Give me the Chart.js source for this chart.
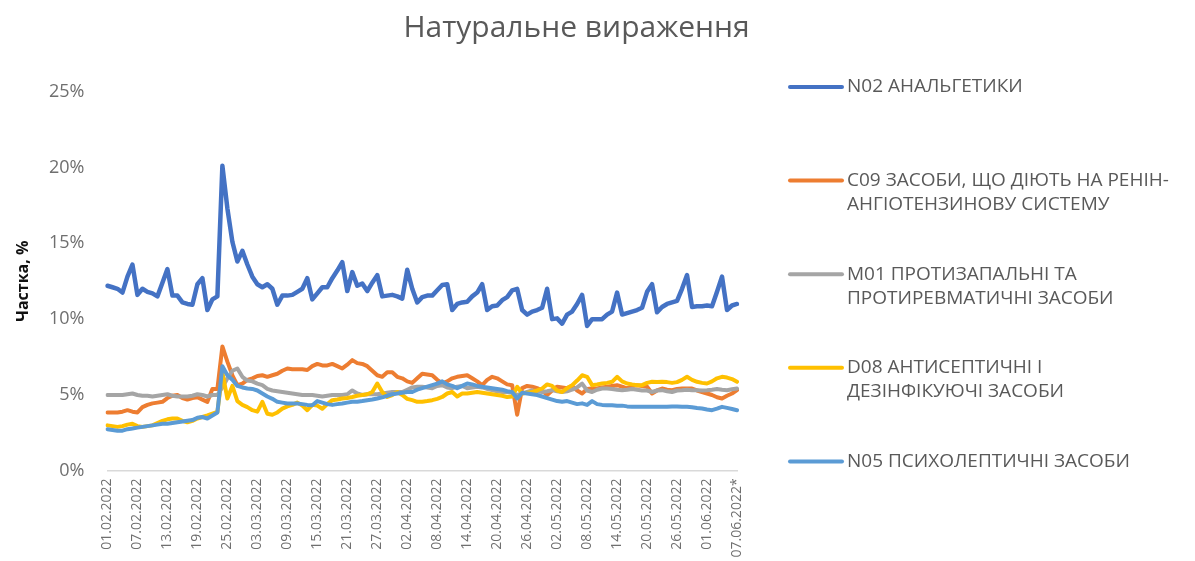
<!DOCTYPE html>
<html>
<head>
<meta charset="utf-8">
<script src="https://cdn.jsdelivr.net/npm/chart.js"></script>
<style>
  html, body { margin: 0; padding: 0; background: #fff; }
  #wrap { width: 1195px; height: 561px; }
</style>
</head>
<body>
<div id="wrap"><canvas id="share-chart"></canvas></div>
<script>
// daily categories 01.02.2022 .. 07.06.2022 (last day marked with *)
var days = [];
for (var d = new Date(2022, 1, 1); d <= new Date(2022, 5, 7); d.setDate(d.getDate() + 1)) {
  days.push(String(d.getDate()).padStart(2, '0') + '.' + String(d.getMonth() + 1).padStart(2, '0') + '.' + d.getFullYear());
}
days[days.length - 1] += '*';

// legend text, split into lines like the original
var legend_lines = [
  ['N02 АНАЛЬГЕТИКИ'],
  ['C09 ЗАСОБИ, ЩО ДІЮТЬ НА РЕНІН-', 'АНГІОТЕНЗИНОВУ СИСТЕМУ'],
  ['M01 ПРОТИЗАПАЛЬНІ ТА', 'ПРОТИРЕВМАТИЧНІ ЗАСОБИ'],
  ['D08 АНТИСЕПТИЧНІ І', 'ДЕЗІНФІКУЮЧІ ЗАСОБИ'],
  ['N05 ПСИХОЛЕПТИЧНІ ЗАСОБИ']
];
var colors = ["#4472C4", "#ED7D31", "#A5A5A5", "#FFC000", "#5B9BD5"];

// share, %
var n02 = [12.2, 12.1, 12.0, 11.75, 12.8, 13.6, 11.6, 12.0, 11.8, 11.7,
  11.5, 12.4, 13.3, 11.55, 11.55, 11.1, 11.0, 10.95, 12.3, 12.7,
  10.6, 11.3, 11.5, 20.1, 17.3, 15.1, 13.8, 14.5, 13.6, 12.8,
  12.3, 12.1, 12.3, 12.0, 10.95, 11.55, 11.55, 11.6, 11.8, 12.0,
  12.7, 11.3, 11.7, 12.1, 12.1, 12.7, 13.2, 13.75, 11.85, 13.1,
  12.2, 12.35, 11.85, 12.4, 12.9, 11.5, 11.55, 11.6, 11.5, 11.35,
  13.25, 12.0, 11.1, 11.45, 11.55, 11.55, 11.9, 12.25, 12.3, 10.6,
  11.0, 11.1, 11.15, 11.5, 11.75, 12.3, 10.6, 10.85, 10.9, 11.25,
  11.45, 11.9, 12.0, 10.6, 10.3, 10.5, 10.6, 10.75, 12.0, 10.0,
  10.05, 9.7, 10.3, 10.5, 11.0, 11.6, 9.55, 10.0, 10.0, 10.0,
  10.3, 10.5, 11.75, 10.3, 10.4, 10.5, 10.6, 10.75, 11.8, 12.3,
  10.45, 10.8, 11.0, 11.1, 11.2, 12.0, 12.9, 10.8, 10.85, 10.85,
  10.9, 10.85, 11.8, 12.8, 10.6, 10.9, 11.0];
var c09 = [3.85, 3.85, 3.85, 3.9, 4.0, 3.9, 3.85, 4.2, 4.35, 4.45,
  4.5, 4.55, 4.8, 4.95, 5.0, 4.8, 4.7, 4.8, 4.85, 4.7,
  4.55, 5.4, 5.4, 8.2, 7.2, 6.3, 5.65, 5.75, 6.0, 6.1,
  6.25, 6.3, 6.2, 6.3, 6.4, 6.6, 6.75, 6.7, 6.7, 6.7,
  6.65, 6.9, 7.05, 6.95, 6.95, 7.05, 6.9, 6.75, 7.0, 7.3,
  7.1, 7.05, 6.9, 6.6, 6.3, 6.2, 6.5, 6.5, 6.2, 6.1,
  5.9, 5.8, 6.1, 6.4, 6.35, 6.3, 6.0, 5.76, 5.9, 6.1,
  6.2, 6.25, 6.3, 6.1, 5.9, 5.65, 6.0, 6.2, 6.1, 5.9,
  5.7, 5.65, 3.7, 5.45, 5.6, 5.55, 5.45, 5.3, 5.0, 5.3,
  5.55, 5.5, 5.45, 5.6, 5.3, 5.1, 5.4, 5.43, 5.43, 5.5,
  5.54, 5.6, 5.65, 5.55, 5.43, 5.6, 5.65, 5.6, 5.55, 5.1,
  5.3, 5.43, 5.35, 5.32, 5.4, 5.43, 5.43, 5.43, 5.3, 5.2,
  5.1, 5.0, 4.85, 4.77, 4.95, 5.1, 5.32];
var m01 = [5.0, 5.0, 5.0, 5.0, 5.05, 5.1, 5.0, 4.95, 4.95, 4.9,
  4.95, 5.0, 5.05, 4.95, 4.9, 4.9, 4.9, 4.95, 5.05, 5.0,
  4.9, 5.0, 5.0, 5.5, 6.1, 6.6, 6.75, 6.2, 5.95, 5.9,
  5.75, 5.65, 5.4, 5.3, 5.25, 5.2, 5.15, 5.1, 5.05, 5.0,
  5.0, 5.0, 4.95, 4.9, 4.95, 5.0, 5.0, 5.0, 5.05, 5.3,
  5.1, 5.0, 5.05, 5.05, 5.05, 5.1, 5.15, 5.2, 5.2, 5.2,
  5.35, 5.5, 5.55, 5.54, 5.5, 5.45, 5.6, 5.65, 5.5, 5.45,
  5.55, 5.6, 5.45, 5.5, 5.55, 5.5, 5.4, 5.32, 5.25, 5.2,
  5.2, 5.15, 5.0, 5.1, 5.2, 5.3, 5.25, 5.2, 5.25, 5.32,
  5.25, 5.2, 5.25, 5.35, 5.5, 5.75, 5.3, 5.2, 5.35, 5.43,
  5.43, 5.4, 5.35, 5.32, 5.35, 5.4, 5.35, 5.3, 5.3, 5.2,
  5.3, 5.32, 5.25, 5.2, 5.3, 5.32, 5.35, 5.32, 5.32, 5.3,
  5.32, 5.35, 5.4, 5.35, 5.32, 5.38, 5.43];
var d08 = [3.0, 2.95, 2.9, 2.95, 3.05, 3.1, 2.95, 2.9, 2.95, 3.0,
  3.15, 3.3, 3.4, 3.45, 3.45, 3.3, 3.2, 3.3, 3.45, 3.55,
  3.65, 3.77, 3.88, 6.5, 4.77, 5.6, 4.6, 4.35, 4.2, 4.0,
  3.9, 4.55, 3.77, 3.7, 3.85, 4.1, 4.25, 4.35, 4.5, 4.3,
  4.0, 4.35, 4.3, 4.1, 4.4, 4.66, 4.7, 4.77, 4.8, 4.87,
  4.95, 5.0, 5.05, 5.2, 5.76, 5.2, 4.87, 5.0, 5.2, 5.0,
  4.75, 4.66, 4.55, 4.55, 4.6, 4.66, 4.75, 4.87, 5.1, 5.2,
  4.9, 5.1, 5.1, 5.15, 5.2, 5.15, 5.1, 5.05, 5.0, 4.95,
  4.87, 4.9, 5.54, 5.1, 5.15, 5.2, 5.3, 5.43, 5.7, 5.6,
  5.3, 5.2, 5.45, 5.65, 5.95, 6.3, 6.2, 5.65, 5.7, 5.76,
  5.8, 5.87, 6.2, 5.9, 5.76, 5.7, 5.65, 5.65, 5.8, 5.87,
  5.85, 5.87, 5.85, 5.8, 5.85, 6.0, 6.2, 6.0, 5.87, 5.8,
  5.76, 5.9, 6.1, 6.2, 6.15, 6.05, 5.87];
var n05 = [2.75, 2.7, 2.65, 2.65, 2.75, 2.8, 2.85, 2.9, 2.95, 3.0,
  3.05, 3.1, 3.1, 3.15, 3.2, 3.25, 3.3, 3.35, 3.5, 3.55,
  3.45, 3.65, 3.85, 6.9, 6.3, 6.0, 5.6, 5.5, 5.43, 5.4,
  5.3, 5.1, 4.9, 4.75, 4.55, 4.5, 4.44, 4.44, 4.44, 4.4,
  4.35, 4.33, 4.6, 4.5, 4.4, 4.35, 4.4, 4.44, 4.5, 4.55,
  4.55, 4.6, 4.66, 4.7, 4.77, 4.85, 4.95, 5.05, 5.1, 5.15,
  5.2, 5.2, 5.35, 5.45, 5.55, 5.65, 5.75, 5.9, 5.7, 5.6,
  5.45, 5.6, 5.76, 5.7, 5.6, 5.54, 5.5, 5.45, 5.4, 5.35,
  5.25, 5.2, 4.77, 5.15, 5.1, 5.05, 5.0, 4.9, 4.8, 4.7,
  4.6, 4.55, 4.6, 4.5, 4.4, 4.45, 4.35, 4.6, 4.4, 4.35,
  4.33, 4.33, 4.3, 4.3, 4.25, 4.22, 4.22, 4.22, 4.22, 4.22,
  4.22, 4.22, 4.22, 4.25, 4.25, 4.22, 4.22, 4.2, 4.15, 4.11,
  4.05, 4.0, 4.1, 4.22, 4.15, 4.08, 4.0];

var series = [n02, c09, m01, d08, n05];

// the built-in legend is clipped to half the canvas width, so the wide
// two-line legend is drawn here, in the space kept free by the 'side' axis
var side_legend = {
  id: 'sideLegend',
  afterDraw: function (chart, args, opts) {
    var ctx = chart.ctx;
    var x = chart.chartArea.right + opts.offset;
    ctx.save();
    ctx.font = opts.font;
    ctx.textAlign = 'left';
    ctx.textBaseline = 'middle';
    chart.data.datasets.forEach(function (ds, i) {
      var y = opts.top + i * opts.step;
      ctx.strokeStyle = ds.borderColor;
      ctx.lineWidth = opts.lineWidth;
      ctx.lineCap = 'round';
      ctx.beginPath();
      ctx.moveTo(x, y);
      ctx.lineTo(x + opts.boxWidth, y);
      ctx.stroke();
      ctx.fillStyle = opts.color;
      legend_lines[i].forEach(function (line, k) {
        ctx.fillText(line, x + opts.boxWidth + opts.gap, y + k * opts.lineHeight);
      });
    });
    ctx.restore();
  }
};

Chart.defaults.font.family = "'Open Sans', sans-serif";

new Chart("share-chart", {
  type: 'line',
  data: {
    labels: days,
    // order: later series drawn on top, as in the original
    datasets: series.map(function (values, i) {
      return {
        label: legend_lines[i].join(' '),
        data: values,
        borderColor: colors[i],
        backgroundColor: colors[i],
        borderWidth: i === 0 ? 4.5 : 4,
        borderJoinStyle: 'round',
        borderCapStyle: 'round',
        pointRadius: 0,
        tension: 0,
        order: series.length - 1 - i
      };
    })
  },
  plugins: [side_legend],
  options: {
    responsive: true,
    maintainAspectRatio: false,
    animation: false,
    layout: { padding: { right: 42 } },
    plugins: {
      title: {
        display: true,
        text: 'Натуральне вираження',
        color: '#595959',
        font: { size: 30, weight: 'normal' },
        padding: { top: 10, bottom: 45.5 }
      },
      legend: { display: false },
      tooltip: { enabled: false },
      sideLegend: {
        offset: 53,
        top: 87,
        step: 93.6,
        lineHeight: 24,
        boxWidth: 52,
        gap: 5,
        lineWidth: 4,
        font: "19px 'Open Sans'",
        color: '#595959'
      }
    },
    scales: {
      x: {
        grid: { display: false, drawTicks: true, tickLength: 4 },
        border: { display: true, color: '#d9d9d9', width: 1.5 },
        ticks: {
          autoSkip: false,
          minRotation: 90,
          maxRotation: 90,
          padding: 3.5,
          color: '#6f6f6f',
          font: { size: 14 },
          callback: function (value, index) {
            return index % 6 === 0 ? this.getLabelForValue(value) : '';
          }
        }
      },
      y: {
        min: 0,
        max: 25,
        grid: { display: false, drawTicks: true, tickLength: 23 },
        border: { display: false },
        ticks: {
          stepSize: 5,
          padding: 0,
          color: '#6f6f6f',
          font: { size: 18 },
          callback: function (value) { return value + '%'; }
        },
        title: {
          display: true,
          text: 'Частка, %',
          color: '#111111',
          font: { size: 16, weight: 'bold' },
          padding: { top: 13.4, bottom: 16.4 }
        }
      },
      // empty axis that only reserves room for the legend
      side: {
        position: 'right',
        display: true,
        grid: { display: false, drawTicks: false },
        border: { display: false },
        ticks: { display: false },
        afterFit: function (scale) { scale.width = 416; }
      }
    }
  }
});
</script>
</body>
</html>
